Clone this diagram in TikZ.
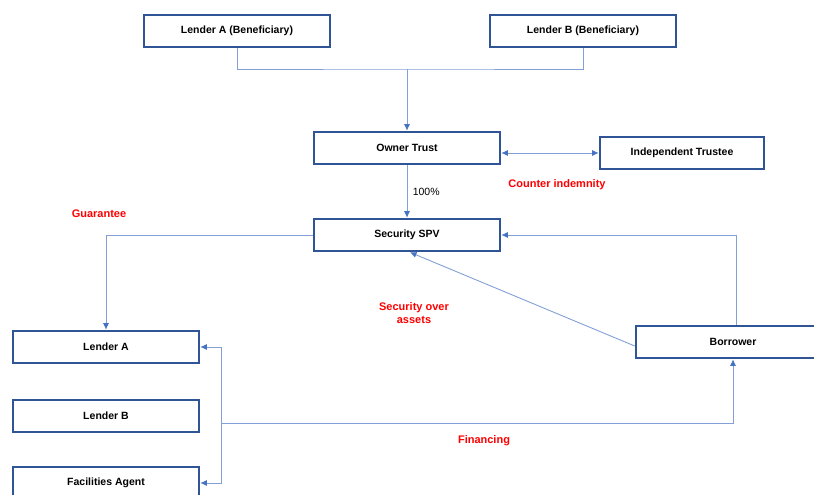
\documentclass[tikz,border=0pt]{standalone}
\usepackage{fontspec}
\setmainfont{Liberation Sans}
\usepackage{tikz}
\usetikzlibrary{arrows.meta}
\definecolor{boxblue}{RGB}{47,85,151}
\definecolor{linkblue}{RGB}{68,114,196}
\definecolor{linklight}{RGB}{130,160,215}
\definecolor{notered}{RGB}{255,0,0}

\begin{document}
\begin{tikzpicture}[x=1pt, y=-1pt,
    party/.style = {draw=boxblue, line width=2.6pt, fill=white, minimum width=186pt, minimum height=32pt, font=\fontsize{10.5}{12}\selectfont\bfseries},
    link/.style = {draw=linklight, line width=0.9pt},
    tip/.tip = {Latex[length=6.5pt,width=6pt,color=linkblue]},
    arr/.style = {link, -tip},
    note/.style = {text=notered, font=\fontsize{11}{12.5}\selectfont\bfseries, align=center}]
            \useasboundingbox (0,0) rectangle (814,495);
            \node[party] (lab) at (237,31) {Lender A (Beneficiary)};
            \node[party] (lbb) at (583,31) {Lender B (Beneficiary)};
            \node[party] (owner) at (407,148) {Owner Trust};
            \node[party, minimum width=164pt] (trustee) at (682,153) {Independent Trustee};
            \node[party] (spv) at (407,235) {Security SPV};
            \node[party] (lendera) at (106,347) {Lender A};
            \node[party] (lenderb) at (106,416) {Lender B};
            \node[party] (agent) at (106,483) {Facilities Agent};
            \node[party, minimum width=194pt] (borrower) at (733,342) {Borrower};
            \coordinate (join) at (407,69);
            \coordinate (fin) at (221,423);
            \draw[link] (lab.south) |- (join) -| (lbb.south);
            \draw[arr] (join) -- (owner.north);
            \draw[link, tip-tip] (trustee.west -| owner.east) -- (trustee.west);
            \draw[arr] (owner.south) -- node[right=2pt, font=\fontsize{10.5}{12}\selectfont] {100\%} (spv.north);
            \draw[arr] (spv.west) -| (lendera.north);
            \draw[arr] ([xshift=3pt]borrower.north) |- (spv.east);
            \draw[arr] ([yshift=-4pt]borrower.west) -- ([xshift=3pt]spv.south);
            \draw[arr] (fin) -| (borrower.south);
            \draw[arr] (fin) |- (lendera.east);
            \draw[arr] (fin) |- (agent.east);
            \node[note] (guarantee) at (99,214) {Guarantee};
            \node[note] (counter) at (557,185) {Counter indemnity};
            \node[note] (secover) at (414,313) {Security over\\assets};
            \node[note] (financing) at (484,441) {Financing};
        \end{tikzpicture}
\end{document}
